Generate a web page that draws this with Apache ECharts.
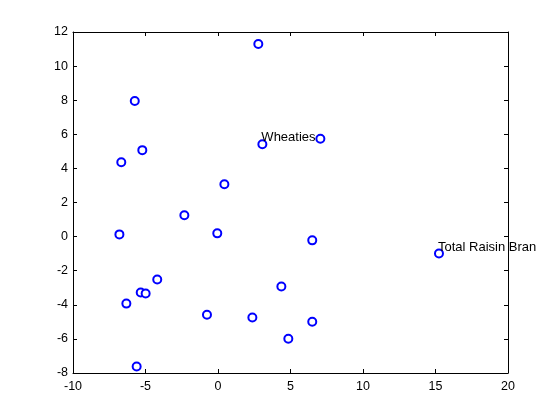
<!DOCTYPE html>
<html>
<head>
<meta charset="utf-8">
<script src="https://cdn.jsdelivr.net/npm/echarts@6/dist/echarts.min.js"></script>
<style>
  html, body { margin: 0; padding: 0; background: #fff; }
  #chart { width: 560px; height: 420px; }
</style>
</head>
<body>
<div id="chart"></div>
<script>
// point coordinates
const xs = [2.78, -5.74, -5.22, -6.67, 3.06, 7.06, 0.44, -2.32, -6.8, -0.05, 6.5,
  15.24, -4.19, 4.37, -5.33, -4.99, -6.32, -0.76, 2.37, 6.5, 4.85, -5.61];
const ys = [11.3, 7.95, 5.07, 4.36, 5.42, 5.74, 3.07, 1.25, 0.13, 0.19, -0.22,
  -0.99, -2.52, -2.93, -3.28, -3.34, -3.93, -4.58, -4.75, -4.99, -5.99, -7.62];
// text labels by point index
const names = { 4: "Wheaties", 11: "Total Raisin Bran" };

const xTicks = [-10, -5, 0, 5, 10, 15, 20];
const yTicks = [-8, -6, -4, -2, 0, 2, 4, 6, 8, 10, 12];

const chart = echarts.init(document.getElementById("chart"));

const data = xs.map((x, i) => {
  const item = { value: [x, ys[i]] };
  if (names[i]) {
    item.label = {
      show: true,
      formatter: names[i],
      position: [4, -1.5],
      verticalAlign: "middle",
      color: "#000",
      fontSize: 13,
      fontFamily: "Liberation Sans"
    };
  }
  return item;
});

const axisLine = { show: true, onZero: false, lineStyle: { color: "#000", width: 1 } };
const axisTick = { show: true, inside: true, length: 4, lineStyle: { color: "#000" } };
const axisLabel = { color: "#000", fontSize: 12.5, fontFamily: "Liberation Sans" };

const option = {
  animation: false,
  grid: { left: 73, right: 52, top: 32, bottom: 47 },
  xAxis: [
    {
      type: "value", min: xTicks[0], max: xTicks[xTicks.length - 1], interval: 5,
      position: "bottom", axisLine, axisTick, splitLine: { show: false },
      axisLabel: Object.assign({ margin: 7 }, axisLabel)
    },
    {
      type: "value", min: xTicks[0], max: xTicks[xTicks.length - 1], interval: 5,
      position: "top", axisLine, axisTick, splitLine: { show: false },
      axisLabel: { show: false }
    }
  ],
  yAxis: [
    {
      type: "value", min: yTicks[0], max: yTicks[yTicks.length - 1], interval: 2,
      position: "left", axisLine, axisTick, splitLine: { show: false },
      axisLabel: Object.assign({ margin: 5 }, axisLabel)
    },
    {
      type: "value", min: yTicks[0], max: yTicks[yTicks.length - 1], interval: 2,
      position: "right", axisLine, axisTick, splitLine: { show: false },
      axisLabel: { show: false }
    }
  ],
  series: [
    {
      type: "scatter",
      symbol: "circle",
      symbolSize: 8,
      itemStyle: { color: "#fff", borderColor: "#0000ff", borderWidth: 2, opacity: 1 },
      data: data
    }
  ]
};
chart.setOption(option);
</script>
</body>
</html>
